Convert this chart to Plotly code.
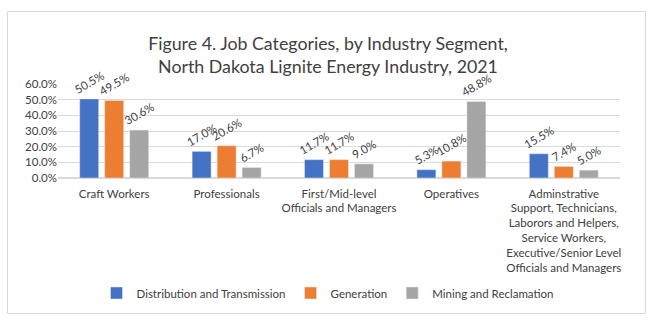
import plotly.graph_objects as go

categories = [
    "Craft Workers",
    "Professionals",
    "First/Mid-level<br>Officials and Managers",
    "Operatives",
    "Adminstrative<br>Support, Technicians,<br>Laborors and Helpers,<br>Service Workers,<br>Executive/Senior Level<br>Officials and Managers",
]
distribution = [0.505, 0.170, 0.117, 0.053, 0.155]
generation = [0.495, 0.206, 0.117, 0.108, 0.074]
mining = [0.306, 0.067, 0.090, 0.488, 0.050]
series_names = ["Distribution and Transmission", "Generation", "Mining and Reclamation"]
colors = ["#4472C4", "#ED7D31", "#A5A5A5"]
tick_vals = [0, 0.1, 0.2, 0.3, 0.4, 0.5, 0.6]

FONT = "Lato"
TXT = "#404040"
FS = 11.5

fig = go.Figure()
for name, vals, col in zip(series_names, [distribution, generation, mining], colors):
    fig.add_trace(go.Bar(
        x=categories, y=vals, name=name, marker_color=col,
        texttemplate="%{y:.1%}", textposition="outside", textangle=-30,
        constraintext="none", cliponaxis=False,
        textfont=dict(family=FONT, size=FS, color=TXT),
    ))

# outer chart border
L, R, T, B = 58, 36, 84, 156
pw, ph = 656 - L - R, 334 - T - B
def px(x): return (x - L) / pw
def py(y): return (334 - B - y) / ph
fig.add_shape(type="rect", xref="paper", yref="paper",
              x0=px(7.5), x1=px(645.5), y0=py(313.5), y1=py(11.5),
              line=dict(color="#D9D9D9", width=1), layer="below")

fig.update_layout(
    width=656, height=334,
    margin=dict(l=L, r=R, t=T, b=B, autoexpand=False),
    paper_bgcolor="white", plot_bgcolor="white",
    barmode="group", bargap=0.333, bargroupgap=0.24,
    title=dict(text="Figure 4. Job Categories, by Industry Segment,<br>North Dakota Lignite Energy Industry, 2021",
               x=0.5, xref="container", xanchor="center",
               y=1 - 50 / 334, yref="container", yanchor="middle",
               font=dict(family=FONT, size=17.8, color=TXT)),
    font=dict(family=FONT, color=TXT),
    showlegend=True,
    legend=dict(orientation="h", x=0.5, xanchor="center", xref="container",
                y=1 - 293 / 334, yref="container", yanchor="middle",
                font=dict(family=FONT, size=FS, color=TXT),
                itemwidth=30, traceorder="normal"),
    yaxis=dict(range=[0, 0.6], tickvals=tick_vals, tickformat=".1%",
               showgrid=True, gridcolor="#D9D9D9", gridwidth=1,
               zeroline=True, zerolinecolor="#D9D9D9", automargin=False,
               tickfont=dict(family=FONT, size=FS, color=TXT), ticks="", ticklen=0),
    xaxis=dict(tickfont=dict(family=FONT, size=FS, color=TXT), ticks="",
               showline=False, tickangle=0, automargin=False,
               ticklabelstandoff=7),
)

fig.write_html("out.html")
